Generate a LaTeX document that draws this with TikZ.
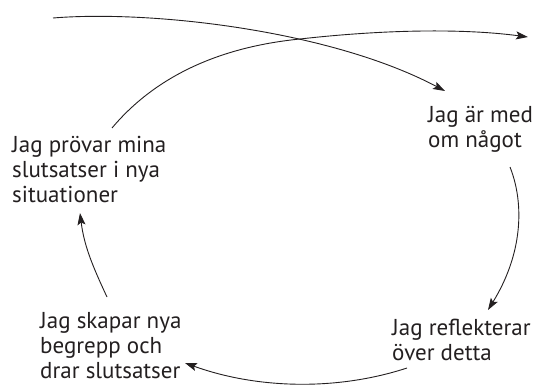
\documentclass[tikz,border=0pt]{standalone}
\usepackage{fontspec}
\setmainfont{PT Sans}
\usetikzlibrary{arrows.meta}
\definecolor{ink}{HTML}{231F20}
\tikzset{
  label/.style={anchor=base west, inner sep=0pt, text=ink,
    font=\fontsize{23}{25}\selectfont},
  conn/.style={draw=ink, line width=0.9pt,
    -{Stealth[length=12pt,width=8pt,inset=2.5pt]}}
}
\begin{document}
\begin{tikzpicture}[x=1pt,y=-1pt]
\useasboundingbox (0,0) rectangle (544,385);
\node[label] (n1) at (428,123) {\begin{tabular}[t]{@{}l@{}}Jag är med\\om något\end{tabular}};
\node[label] (n2) at (392,335) {\begin{tabular}[t]{@{}l@{}}Jag reflekterar\\över detta\end{tabular}};
\node[label] (n3) at (40,328) {\begin{tabular}[t]{@{}l@{}}Jag skapar nya\\begrepp och\\drar slutsatser\end{tabular}};
\node[label] (n4) at (12,153) {\begin{tabular}[t]{@{}l@{}}Jag prövar mina\\slutsatser i nya\\situationer\end{tabular}};
% helper end points
\coordinate (in0) at (53,18);
\coordinate (in1) at (445,91);
\coordinate (out0) at (112,128);
\coordinate (cross) at (300,39);
\coordinate (out1) at (528,37);
\coordinate (r0) at (510,167);
\coordinate (r1) at (488,310);
\coordinate (b0) at (407,368);
\coordinate (b1) at (185,363);
\coordinate (l0) at (107,297);
\coordinate (l1) at (80,213);
% connectors
\draw[conn] (in0) .. controls (150,10) and (330,30) .. (in1);
\draw[conn] (out0) .. controls (165,65) and (240,45) .. (cross)
  .. controls (380,30) and (460,28) .. (out1);
\draw[conn] (r0) .. controls (525,205) and (522,255) .. (r1);
\draw[conn] (b0) .. controls (340,390) and (260,390) .. (b1);
\draw[conn] (l0) .. controls (92,265) and (84,245) .. (l1);
\end{tikzpicture}
\end{document}
